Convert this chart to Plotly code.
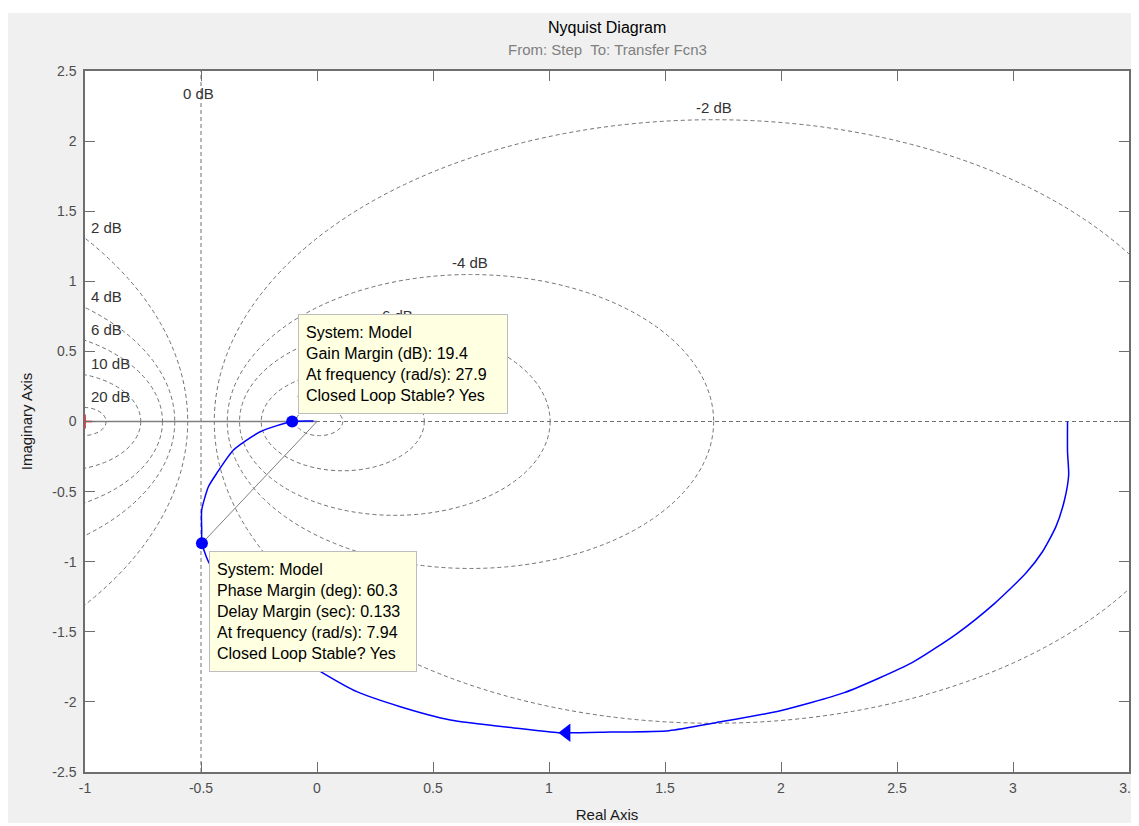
import numpy as np
import plotly.graph_objects as go

# ---------------- data ----------------
# Nyquist curve (positive frequencies), real and imaginary parts
nyq_re = [3.235, 3.235, 3.240, 3.222, 3.185, 3.127, 3.055, 2.921, 2.760, 2.565,
          2.273, 1.997, 1.720, 1.517, 1.265, 1.041, 0.862, 0.575, 0.359, 0.172,
          0.028, -0.100, -0.220, -0.330, -0.420, -0.468, -0.496, -0.497, -0.497,
          -0.468, -0.432, -0.360, -0.245, -0.107, -0.015]
nyq_im = [0.000, -0.215, -0.382, -0.560, -0.750, -0.929, -1.083, -1.297, -1.511, -1.720,
          -1.934, -2.063, -2.148, -2.205, -2.215, -2.220, -2.188, -2.129, -2.034, -1.927,
          -1.796, -1.660, -1.500, -1.310, -1.120, -1.000, -0.869, -0.774, -0.631,
          -0.465, -0.369, -0.203, -0.073, 0.000, 0.004]

# direction arrow on the curve
arrow_re = [1.075]
arrow_im = [-2.220]

# stability margin points
gm_re, gm_im = -0.107, 0.0      # gain margin crossing
pm_re, pm_im = -0.496, -0.869   # phase margin crossing
critical_re, critical_im = -1.0, 0.0

# M-circle grid levels (dB)
db_levels = [-20, -10, -6, -4, -2, 2, 4, 6, 10, 20]
db_zero_label = "0 dB"

# tick labels
x_tick_vals = [-1, -0.5, 0, 0.5, 1, 1.5, 2, 2.5, 3, 3.5]
x_tick_text = ["-1", "-0.5", "0", "0.5", "1", "1.5", "2", "2.5", "3", "3.5"]
y_tick_vals = [-2.5, -2, -1.5, -1, -0.5, 0, 0.5, 1, 1.5, 2, 2.5]
y_tick_text = ["-2.5", "-2", "-1.5", "-1", "-0.5", "0", "0.5", "1", "1.5", "2", "2.5"]

# texts
title_text = "Nyquist Diagram"
subtitle_text = "From: Step  To: Transfer Fcn3"
x_title = "Real Axis"
y_title = "Imaginary Axis"
gm_tip_lines = ["System: Model", "Gain Margin (dB): 19.4",
                "At frequency (rad/s): 27.9", "Closed Loop Stable? Yes"]
pm_tip_lines = ["System: Model", "Phase Margin (deg): 60.3", "Delay Margin (sec): 0.133",
                "At frequency (rad/s): 7.94", "Closed Loop Stable? Yes"]

# ---------------- layout geometry / styles ----------------
# the page body has an 8px margin, so figure coordinates = page coordinates - 8
W, H = 1131, 815
ML, MR, MT, MB = 77, 10, 63, 51
PW, PH = W - ML - MR, H - MT - MB
FONT = "Liberation Sans, Arial, sans-serif"
GRID = "#707070"
DASH = "4px,3px"
BLUE = "#0000ff"


def px_x(px):
    return (px - ML) / PW


def px_y(py):
    return (H - MB - py) / PH


fig = go.Figure()

shapes = []
# thin white strip above the grey figure window
shapes.append(dict(type="rect", xref="paper", yref="paper", layer="below",
                   x0=px_x(0), x1=px_x(W), y0=px_y(5), y1=px_y(0),
                   fillcolor="white", line=dict(width=0)))

# M-circles
for db in db_levels:
    m = 10 ** (db / 20)
    c = -m * m / (m * m - 1)
    r = abs(m / (m * m - 1))
    shapes.append(dict(type="circle", xref="x", yref="y", layer="below",
                       x0=c - r, x1=c + r, y0=-r, y1=r,
                       line=dict(color=GRID, width=1, dash=DASH)))
# 0 dB line and real axis
shapes.append(dict(type="line", xref="x", yref="y domain", layer="below",
                   x0=-0.5, x1=-0.5, y0=0, y1=1,
                   line=dict(color=GRID, width=1, dash=DASH)))
shapes.append(dict(type="line", xref="x domain", yref="y", layer="below",
                   x0=0, x1=1, y0=0, y1=0,
                   line=dict(color=GRID, width=1, dash=DASH)))

fig.update_layout(shapes=shapes)

# solid real-axis segment from the critical point to the origin
fig.add_trace(go.Scatter(x=[critical_re, 0], y=[critical_im, 0], mode="lines",
                         line=dict(color="#808080", width=1.6), hoverinfo="skip"))
# phase-margin line from origin
fig.add_trace(go.Scatter(x=[0, pm_re], y=[0, pm_im], mode="lines",
                         line=dict(color="#808080", width=1), hoverinfo="skip"))
# Nyquist curve
fig.add_trace(go.Scatter(x=nyq_re, y=nyq_im, mode="lines",
                         line=dict(color=BLUE, width=1.5, shape="spline", smoothing=0.6),
                         hoverinfo="skip"))
# arrow
fig.add_trace(go.Scatter(x=arrow_re, y=arrow_im, mode="markers",
                         marker=dict(symbol="triangle-left", size=16, color=BLUE,
                                     line=dict(width=0)), hoverinfo="skip"))
# margin markers
fig.add_trace(go.Scatter(x=[gm_re, pm_re], y=[gm_im, pm_im], mode="markers",
                         marker=dict(symbol="circle", size=12, color=BLUE,
                                     line=dict(width=0)), hoverinfo="skip"))
# critical point
fig.add_trace(go.Scatter(x=[critical_re], y=[critical_im], mode="markers",
                         marker=dict(symbol="cross-thin", size=10,
                                     line=dict(color="red", width=1.5)),
                         hoverinfo="skip"))

annotations = []
LBL_FONT = dict(family=FONT, size=15, color="#333333")
# dB labels
for db in db_levels:
    m = 10 ** (db / 20)
    c = -m * m / (m * m - 1)
    r = abs(m / (m * m - 1))
    if db < 0:
        annotations.append(dict(x=c, y=r, xref="x", yref="y", text=f"{db} dB",
                                showarrow=False, xanchor="center", yanchor="middle",
                                yshift=12, font=LBL_FONT))
    else:
        yy = np.sqrt(r * r - (-1 - c) ** 2)
        annotations.append(dict(x=-1, y=yy, xref="x", yref="y", text=f"{db} dB",
                                showarrow=False, xanchor="left", yanchor="middle",
                                xshift=4, yshift=11, font=LBL_FONT))
annotations.append(dict(x=-0.5, y=1, xref="x", yref="y domain", text=db_zero_label,
                        showarrow=False, xanchor="center", yanchor="middle",
                        yshift=-22, xshift=-3, font=LBL_FONT))

# data tips
TIP = dict(showarrow=False, xref="x", yref="y", align="left", valign="middle",
           bgcolor="#ffffe1", bordercolor="#bdbdbd", borderwidth=1, borderpad=7,
           xanchor="left", yanchor="top",
           font=dict(family=FONT, size=16, color="#000000"))
annotations.append(dict(TIP, x=gm_re, y=gm_im, text="<br>".join(gm_tip_lines),
                        width=194, height=84, xshift=6, yshift=108))
annotations.append(dict(TIP, x=pm_re, y=pm_im, text="<br>".join(pm_tip_lines),
                        width=192, height=105, xshift=7, yshift=-8))

# titles (page y 27 and 50 -> figure y 19 and 42)
annotations.append(dict(x=0.5, y=px_y(19), xref="paper", yref="paper", text=title_text,
                        showarrow=False, xanchor="center", yanchor="middle",
                        font=dict(family=FONT, size=16, color="#000000")))
annotations.append(dict(x=0.5, y=px_y(42), xref="paper", yref="paper", text=subtitle_text,
                        showarrow=False, xanchor="center", yanchor="middle",
                        font=dict(family=FONT, size=15, color="#7f7f7f")))

AX_LINE = "#6e6e6e"
TICK_FONT = dict(family=FONT, size=14, color="#4d4d4d")
fig.update_layout(
    width=W, height=H,
    margin=dict(l=ML, r=MR, t=MT, b=MB, autoexpand=False),
    paper_bgcolor="#f0f0f0", plot_bgcolor="white",
    showlegend=False,
    annotations=annotations,
    xaxis=dict(range=[-1, 3.5], tickvals=x_tick_vals, ticktext=x_tick_text,
               showgrid=False, zeroline=False, showline=True, linecolor=AX_LINE,
               linewidth=1.5, mirror="ticks", ticks="inside", ticklen=10,
               tickcolor=AX_LINE, tickwidth=1, tickfont=TICK_FONT,
               ticklabelstandoff=2,
               title=dict(text=x_title, font=dict(family=FONT, size=15, color="#1a1a1a"),
                          standoff=16)),
    yaxis=dict(range=[-2.5, 2.5], tickvals=y_tick_vals, ticktext=y_tick_text,
               showgrid=False, zeroline=False, showline=True, linecolor=AX_LINE,
               linewidth=1.5, mirror="ticks", ticks="inside", ticklen=10,
               tickcolor=AX_LINE, tickwidth=1, tickfont=TICK_FONT,
               ticklabelstandoff=4,
               title=dict(text=y_title, font=dict(family=FONT, size=15, color="#1a1a1a"),
                          standoff=16)),
)

fig.write_html("out.html")
